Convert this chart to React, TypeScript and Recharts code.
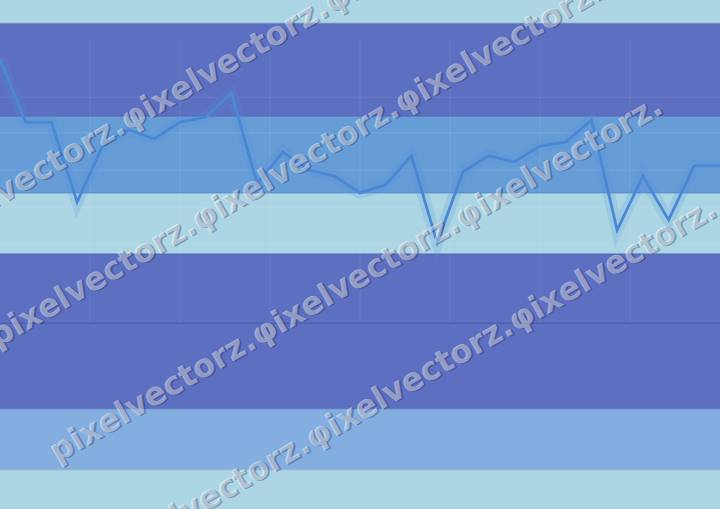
import React from "react";
import { ComposedChart, Line, XAxis, YAxis, ReferenceArea, ReferenceLine } from "recharts";

const WIDTH = 720;
const HEIGHT = 509;

// categories (sample index) and series values (arbitrary units 0-100)
const samples = [0, 1, 2, 3, 4, 5, 6, 7, 8, 9, 10, 11, 12, 13, 14, 15, 16, 17, 18, 19, 20, 21, 22, 23, 24, 25, 26, 27, 28];
const values = [88.4, 76.0, 76.0, 60.3, 71.5, 74.5, 72.7, 76.0, 77.0, 81.7, 64.0, 70.1, 66.6, 65.4, 62.1, 63.7, 69.4, 52.3, 66.2, 69.4, 68.2, 71.3, 72.1, 76.4, 54.8, 65.4, 56.8, 67.4, 67.4];

// horizontal background bands
const bandTop = [100, 95.5, 77.2, 62.1, 50.1, 19.6, 7.7];
const bandBottom = [95.5, 77.2, 62.1, 50.1, 19.6, 7.7, 0];
const bandColor = ["#add6e4", "#5d6fc0", "#679dd7", "#add6e4", "#5d6fc0", "#84aee0", "#add6e4"];

// thin lines at band edges
const edgeValue = [95.5, 77.2, 62.1, 50.1, 36.5, 19.6, 7.7];
const edgeColor = ["#8fb8d0", "#5468b4", "#5a8cc8", "#5468b4", "#4a5aa6", "#6f9ad2", "#8fb0c8"];

// faint grid
const gridX = [3.5, 7, 10.5, 14, 17.5, 21, 24.5];
const gridY = [80.9, 73.9, 66.6, 59.3, 52.1];
const gridTop = 92.3;
const gridBottom = 36.5;

const watermarkText = "pixelvectorz.\u03c6ixelvectorz.\u03c6ixelvectorz.";
const watermarkRows = [
  { x: -74, y: 248 },
  { x: -3, y: 348 },
  { x: 57, y: 463 },
  { x: 111, y: 566 },
];

const data = samples.map((s, i) => ({ s, v: values[i] }));

export default function App() {
  return (
    <div style={{ position: "absolute", left: 0, top: 0, width: WIDTH, height: HEIGHT, overflow: "hidden" }}>
      <style>{"body{margin:0}"}</style>
      <ComposedChart width={WIDTH} height={HEIGHT} data={data} margin={{ top: 0, right: 0, bottom: 0, left: 0 }}>
        <XAxis dataKey="s" type="number" domain={[0, 28]} hide />
        <YAxis type="number" domain={[0, 100]} hide />
        {bandTop.map((t, i) => (
          <ReferenceArea key={"b" + i} y1={bandBottom[i]} y2={t} fill={bandColor[i]} fillOpacity={1} stroke="none" ifOverflow="visible" />
        ))}
        {gridY.map((g, i) => (
          <ReferenceLine key={"gy" + i} y={g} stroke="#ffffff" strokeOpacity={0.08} strokeWidth={1} />
        ))}
        {gridX.map((g, i) => (
          <ReferenceLine
            key={"gx" + i}
            segment={[{ x: g, y: gridTop }, { x: g, y: gridBottom }]}
            stroke="#ffffff"
            strokeOpacity={0.08}
            strokeWidth={1}
          />
        ))}
        {edgeValue.map((e, i) => (
          <ReferenceLine key={"e" + i} y={e} stroke={edgeColor[i]} strokeWidth={1} />
        ))}
        <Line type="linear" dataKey="v" stroke="#4f8fd8" strokeOpacity={0.18} strokeWidth={12} dot={false} activeDot={false} legendType="none" isAnimationActive={false} />
        <Line type="linear" dataKey="v" stroke="#4a88d6" strokeWidth={2.8} dot={false} activeDot={false} legendType="none" isAnimationActive={false} />
      </ComposedChart>
      <svg width={WIDTH} height={HEIGHT} style={{ position: "absolute", left: 0, top: 0, pointerEvents: "none" }}>
        {watermarkRows.map((r, i) => (
          <g key={"w" + i} transform={`rotate(-30 ${r.x} ${r.y})`} fontFamily="DejaVu Sans" fontWeight="bold" fontSize={32}>
            <text x={r.x + 1.5} y={r.y + 1.5} fill="#1c2a5a" fillOpacity={0.35}>{watermarkText}</text>
            <text x={r.x} y={r.y} fill="#ffffff" fillOpacity={0.42}>{watermarkText}</text>
          </g>
        ))}
      </svg>
    </div>
  );
}
